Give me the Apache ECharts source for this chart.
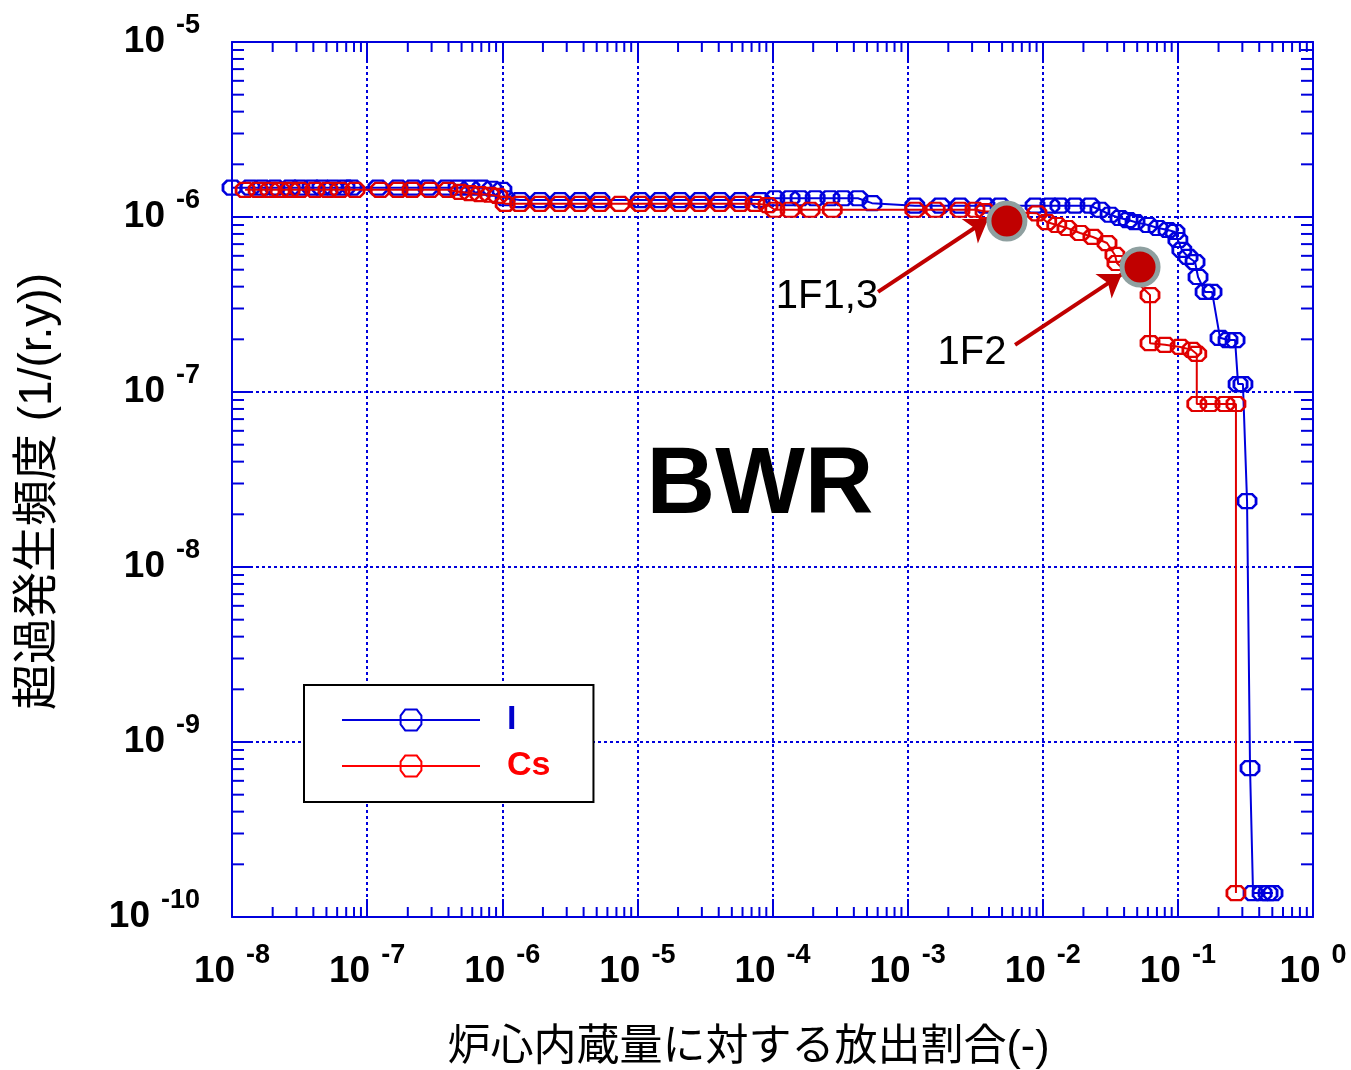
<!DOCTYPE html>
<html>
<head>
<meta charset="utf-8">
<script src="https://cdn.jsdelivr.net/npm/echarts@6/dist/echarts.min.js"></script>
<style>
html, body { margin: 0; padding: 0; background: #fff; }
#main { width: 1351px; height: 1070px; }
</style>
</head>
<body>
<div id="main"></div>
<script>
// I (iodine) release fraction vs exceedance frequency
var iX = [1.0e-8, 1.36e-8, 1.67e-8, 2.08e-8, 2.69e-8, 3.18e-8, 3.91e-8, 4.63e-8, 5.59e-8, 6.86e-8,
    7.73e-8, 1.20e-7, 1.69e-7, 2.19e-7, 2.82e-7, 3.84e-7, 4.71e-7, 5.77e-7, 7.08e-7, 8.40e-7,
    9.95e-7, 1.05e-6, 1.35e-6, 1.90e-6, 2.67e-6, 3.76e-6, 5.29e-6, 1.05e-5, 1.47e-5, 2.07e-5,
    2.90e-5, 4.08e-5, 5.75e-5, 8.09e-5, 1.04e-4, 1.35e-4, 1.60e-4, 2.07e-4, 2.66e-4, 3.33e-4,
    4.29e-4, 5.45e-4, 1.13e-3, 1.74e-3, 2.44e-3, 3.74e-3, 4.83e-3, 8.77e-3, 1.13e-2, 1.34e-2,
    1.73e-2, 2.24e-2, 2.65e-2, 3.15e-2, 3.73e-2, 4.28e-2, 4.82e-2, 6.01e-2, 7.13e-2, 8.45e-2,
    9.53e-2, 0.100, 0.107, 0.119, 0.134, 0.141, 0.159, 0.179, 0.205, 0.235,
    0.265, 0.279, 0.303, 0.325, 0.342, 0.360, 0.420, 0.465, 0.506];
var iY = [1.47e-6, 1.47e-6, 1.47e-6, 1.47e-6, 1.47e-6, 1.47e-6, 1.47e-6, 1.47e-6, 1.47e-6, 1.47e-6,
    1.47e-6, 1.47e-6, 1.47e-6, 1.47e-6, 1.47e-6, 1.47e-6, 1.47e-6, 1.47e-6, 1.47e-6, 1.45e-6,
    1.43e-6, 1.28e-6, 1.25e-6, 1.25e-6, 1.25e-6, 1.25e-6, 1.25e-6, 1.25e-6, 1.25e-6, 1.25e-6,
    1.25e-6, 1.25e-6, 1.25e-6, 1.25e-6, 1.28e-6, 1.28e-6, 1.28e-6, 1.28e-6, 1.28e-6, 1.28e-6,
    1.28e-6, 1.20e-6, 1.16e-6, 1.16e-6, 1.16e-6, 1.16e-6, 1.16e-6, 1.16e-6, 1.16e-6, 1.16e-6,
    1.16e-6, 1.16e-6, 1.10e-6, 1.03e-6, 9.87e-7, 9.61e-7, 9.36e-7, 9.00e-7, 8.65e-7, 8.43e-7,
    8.21e-7, 7.39e-7, 6.48e-7, 5.91e-7, 5.53e-7, 4.54e-7, 3.73e-7, 3.73e-7, 2.04e-7, 1.98e-7,
    1.98e-7, 1.11e-7, 1.11e-7, 2.38e-8, 7.10e-10, 1.37e-10, 1.37e-10, 1.37e-10, 1.37e-10];

// Cs (cesium)
var csX = [1.25e-8, 1.56e-8, 1.91e-8, 2.27e-8, 2.69e-8, 3.18e-8, 4.11e-8, 5.13e-8, 6.30e-8, 8.13e-8,
    1.25e-7, 1.69e-7, 2.15e-7, 2.92e-7, 3.97e-7, 4.87e-7, 5.77e-7, 6.84e-7, 8.11e-7, 9.30e-7,
    1.05e-6, 1.35e-6, 1.90e-6, 2.67e-6, 3.76e-6, 5.29e-6, 7.43e-6, 1.05e-5, 1.47e-5, 2.07e-5,
    2.90e-5, 4.08e-5, 5.75e-5, 7.43e-5, 9.27e-5, 1.04e-4, 1.35e-4, 1.90e-4, 2.77e-4, 1.13e-3,
    1.60e-3, 2.44e-3, 3.15e-3, 3.74e-3, 9.06e-3, 1.07e-2, 1.27e-2, 1.51e-2, 1.89e-2, 2.35e-2,
    2.99e-2, 3.42e-2, 3.54e-2, 6.22e-2, 6.22e-2, 8.03e-2, 0.104, 0.127, 0.138, 0.138,
    0.173, 0.223, 0.269, 0.269];
var csY = [1.43e-6, 1.43e-6, 1.43e-6, 1.43e-6, 1.43e-6, 1.43e-6, 1.43e-6, 1.43e-6, 1.43e-6, 1.43e-6,
    1.43e-6, 1.43e-6, 1.43e-6, 1.43e-6, 1.43e-6, 1.39e-6, 1.37e-6, 1.35e-6, 1.34e-6, 1.32e-6,
    1.19e-6, 1.19e-6, 1.19e-6, 1.19e-6, 1.19e-6, 1.19e-6, 1.19e-6, 1.19e-6, 1.19e-6, 1.19e-6,
    1.19e-6, 1.19e-6, 1.19e-6, 1.19e-6, 1.17e-6, 1.10e-6, 1.10e-6, 1.10e-6, 1.10e-6, 1.10e-6,
    1.10e-6, 1.10e-6, 1.10e-6, 1.08e-6, 1.05e-6, 9.36e-7, 9.00e-7, 8.65e-7, 8.10e-7, 7.69e-7,
    7.10e-7, 6.07e-7, 5.46e-7, 3.58e-7, 1.90e-7, 1.86e-7, 1.81e-7, 1.74e-7, 1.65e-7, 8.54e-8,
    8.54e-8, 8.54e-8, 8.54e-8, 1.37e-10];

// Fukushima units marked on the chart
var plantNames = ['1F1,3', '1F2'];
var plantX = [5.43e-3, 5.25e-2];
var plantY = [9.49e-7, 5.18e-7];
var arrowFrom = [[6.04e-4, 3.73e-7], [6.24e-3, 1.86e-7]];
var arrowTo = [[3.94e-3, 9.74e-7], [3.85e-2, 4.72e-7]];

var xMin = 1e-8, xMax = 1;
var yMin = 1e-10, yMax = 1e-5;

var blue = '#0000dd';
var red = '#e00000';
var fontLatin = '"Liberation Sans", Arial, sans-serif';
var fontJp = '"Liberation Sans", "Noto Sans CJK JP", sans-serif';
var octagon = 'path://M4,0 L14,0 L18,4 L18,10 L14,14 L4,14 L0,10 L0,4 Z';

// minor ticks 2..9 x 10^k
var xMinor = [];
for (var e = -8; e < 0; e++) {
    for (var m = 2; m <= 9; m++) xMinor.push(m * Math.pow(10, e));
}
var yMinor = [];
for (var e2 = -10; e2 < -5; e2++) {
    for (var m2 = 2; m2 <= 9; m2++) yMinor.push(m2 * Math.pow(10, e2));
}

function pairs(xs, ys) {
    var out = [];
    for (var i = 0; i < xs.length; i++) out.push([xs[i], ys[i]]);
    return out;
}

var powLabel = {
    formatter: function (v) {
        return '{b|10}{s|' + Math.round(Math.log10(v)) + '}';
    },
    rich: {
        b: { fontSize: 37, fontWeight: 'bold', fontFamily: fontLatin, color: '#000', lineHeight: 60 },
        s: { fontSize: 27, fontWeight: 'bold', fontFamily: fontLatin, color: '#000', lineHeight: 27, verticalAlign: 'top', padding: [0, 0, 0, 11] }
    }
};

var frameLine = { show: true, onZero: false, lineStyle: { color: blue, width: 2 } };
var majorTick = { show: true, inside: true, length: 18, lineStyle: { color: blue, width: 2 } };
var gridLine = { show: true, lineStyle: { color: blue, width: 2, type: [3, 3] } };

var chart = echarts.init(document.getElementById('main'));

var option = {
    animation: false,
    backgroundColor: '#fff',
    grid: { left: 232, right: 38, top: 42, bottom: 153, show: false, containLabel: false, outerBoundsMode: 'none' },
    legend: {
        orient: 'vertical',
        left: 304,
        top: 685,
        padding: [18, 43, 19, 37],
        itemWidth: 138,
        itemHeight: 26,
        itemGap: 12,
        borderColor: '#000',
        borderWidth: 2,
        backgroundColor: '#fff',
        textStyle: { fontSize: 34, fontWeight: 'bold', fontFamily: fontLatin, lineHeight: 26, padding: [0, 0, 0, 22] },
        data: [
            { name: 'I', textStyle: { color: '#0000cc' }, itemStyle: { color: 'rgba(0,0,0,0)', borderColor: blue, borderWidth: 2 } },
            { name: 'Cs', textStyle: { color: '#ff0000' }, itemStyle: { color: 'rgba(0,0,0,0)', borderColor: '#ff0000', borderWidth: 2 }, lineStyle: { color: '#ff0000' } }
        ]
    },
    xAxis: [
        {
            type: 'log', logBase: 10, min: xMin, max: xMax, splitNumber: 8, position: 'bottom',
            name: '炉心内蔵量に対する放出割合(-)', nameLocation: 'middle', nameGap: 110,
            nameTextStyle: { fontSize: 43, fontFamily: fontJp, color: '#000', padding: [0, 48, 0, 0] },
            axisLine: frameLine, axisTick: majorTick,
            axisLabel: Object.assign({ margin: 25 }, powLabel),
            splitLine: gridLine
        },
        {
            type: 'log', logBase: 10, min: xMin, max: xMax, splitNumber: 8, position: 'top',
            axisLine: frameLine, axisTick: majorTick, axisLabel: { show: false }, splitLine: { show: false }
        }
    ],
    yAxis: [
        {
            type: 'log', logBase: 10, min: yMin, max: yMax, splitNumber: 5, position: 'left',
            name: '超過発生頻度 (1/(r.y))', nameLocation: 'middle', nameGap: 171, nameRotate: 90,
            nameTextStyle: { fontSize: 46, fontFamily: fontJp, color: '#000', padding: [0, 24, 0, 0] },
            axisLine: frameLine, axisTick: majorTick,
            axisLabel: Object.assign({ margin: 32 }, powLabel),
            splitLine: gridLine
        },
        {
            type: 'log', logBase: 10, min: yMin, max: yMax, splitNumber: 5, position: 'right',
            axisLine: frameLine, axisTick: majorTick, axisLabel: { show: false }, splitLine: { show: false }
        }
    ],
    graphic: [
        { type: 'text', x: 760, y: 487, z: 10,
          style: { text: 'BWR', font: 'bold 95px ' + fontLatin, fill: '#000', align: 'center', verticalAlign: 'middle', textAlign: 'center', textVerticalAlign: 'middle' } },
        { type: 'text', x: 827, y: 297, z: 10,
          style: { text: plantNames[0], font: '40px ' + fontLatin, fill: '#000', align: 'center', verticalAlign: 'middle', textAlign: 'center', textVerticalAlign: 'middle' } },
        { type: 'text', x: 972, y: 353, z: 10,
          style: { text: plantNames[1], font: '40px ' + fontLatin, fill: '#000', align: 'center', verticalAlign: 'middle', textAlign: 'center', textVerticalAlign: 'middle' } }
    ],
    series: [
        {
            name: 'I', type: 'line', data: pairs(iX, iY),
            symbol: octagon, symbolSize: [18, 14], showAllSymbol: true,
            lineStyle: { color: blue, width: 2 },
            itemStyle: { color: 'rgba(0,0,0,0)', borderColor: blue, borderWidth: 2.5 },
            emphasis: { disabled: true }, z: 3
        },
        {
            name: 'Cs', type: 'line', data: pairs(csX, csY),
            symbol: octagon, symbolSize: [18, 14], showAllSymbol: true,
            lineStyle: { color: red, width: 2 },
            itemStyle: { color: 'rgba(0,0,0,0)', borderColor: red, borderWidth: 2.5 },
            emphasis: { disabled: true }, z: 4
        },
        {
            name: 'plants', type: 'scatter', data: pairs(plantX, plantY),
            symbol: 'circle', symbolSize: 36,
            itemStyle: { color: '#c00000', borderColor: '#8fa0a0', borderWidth: 5, opacity: 1 },
            emphasis: { disabled: true }, z: 6,
            markLine: {
                silent: true,
                symbol: ['none', 'arrow'],
                symbolSize: 22,
                label: { show: false },
                lineStyle: { color: '#c00000', width: 4, type: 'solid' },
                data: [
                    [{ coord: arrowFrom[0] }, { coord: arrowTo[0] }],
                    [{ coord: arrowFrom[1] }, { coord: arrowTo[1] }]
                ]
            }
        },
        {
            name: 'xMinor', type: 'custom', silent: true, z: 2,
            data: xMinor.map(function (v) { return [v, yMin]; }),
            renderItem: function (params, api) {
                var b = api.coord([api.value(0), yMin]);
                var t = api.coord([api.value(0), yMax]);
                return { type: 'group', children: [
                    { type: 'line', shape: { x1: b[0], y1: b[1], x2: b[0], y2: b[1] - 10 }, style: { stroke: blue, lineWidth: 2 } },
                    { type: 'line', shape: { x1: t[0], y1: t[1], x2: t[0], y2: t[1] + 10 }, style: { stroke: blue, lineWidth: 2 } }
                ] };
            }
        },
        {
            name: 'yMinor', type: 'custom', silent: true, z: 2,
            data: yMinor.map(function (v) { return [xMin, v]; }),
            renderItem: function (params, api) {
                var l = api.coord([xMin, api.value(1)]);
                var r = api.coord([xMax, api.value(1)]);
                return { type: 'group', children: [
                    { type: 'line', shape: { x1: l[0], y1: l[1], x2: l[0] + 12, y2: l[1] }, style: { stroke: blue, lineWidth: 2 } },
                    { type: 'line', shape: { x1: r[0], y1: r[1], x2: r[0] - 12, y2: r[1] }, style: { stroke: blue, lineWidth: 2 } }
                ] };
            }
        }
    ]
};

chart.setOption(option);
</script>
</body>
</html>
